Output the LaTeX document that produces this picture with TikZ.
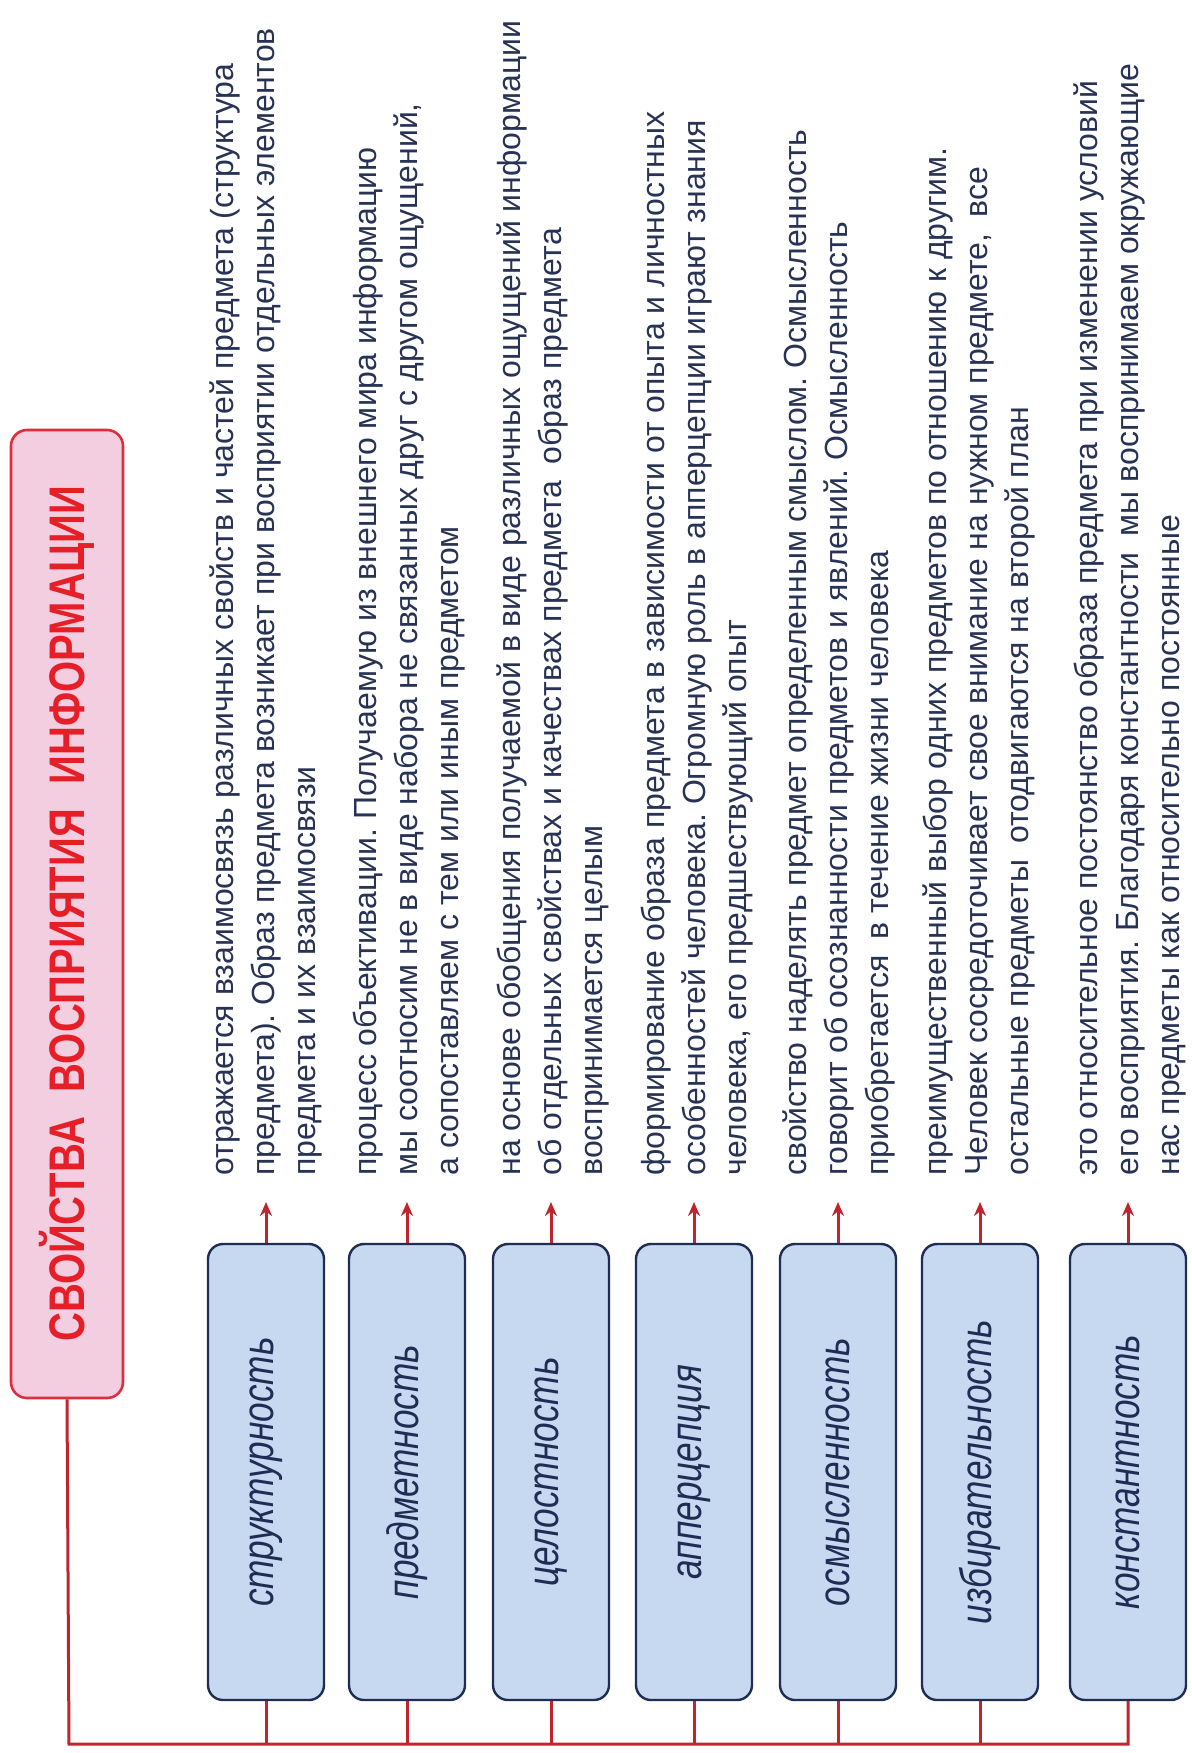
\documentclass[tikz,border=0pt]{standalone}
\usepackage{fontspec}
\setmainfont{Liberation Sans}
\newfontfamily\titlefont{Liberation Sans}[FakeStretch=0.8]
\newfontfamily\labelfont{Liberation Sans}[FakeStretch=0.8]
\usetikzlibrary{arrows.meta}
\frenchspacing

\definecolor{boxfill}{RGB}{198,217,240}
\definecolor{boxline}{RGB}{31,45,85}
\definecolor{titlefill}{RGB}{242,206,224}
\definecolor{titleline}{RGB}{222,45,60}
\definecolor{titletext}{RGB}{230,30,40}
\definecolor{linkred}{RGB}{192,36,44}
\definecolor{desctext}{RGB}{40,50,85}

\begin{document}
\begin{tikzpicture}[
        x=0.5pt, y=-0.5pt,
        titlebox/.style={draw=titleline, line width=1.3pt, fill=titlefill, rounded corners=8pt,
            rotate=90, minimum width=484pt, minimum height=56pt, inner sep=0pt,
            font=\titlefont\bfseries\fontsize{25pt}{30pt}\selectfont, text=titletext},
        propbox/.style={draw=boxline, line width=1.2pt, fill=boxfill, rounded corners=7.5pt,
            rotate=90, minimum width=228pt, minimum height=58pt, inner sep=0pt,
            font=\labelfont\itshape\fontsize{22pt}{25pt}\selectfont, text=boxline},
        desc/.style={rotate=90, anchor=west, align=left, inner sep=0pt, text=desctext,
            font=\fontsize{16pt}{20.5pt}\selectfont},
        link/.style={draw=linkred, line width=1.5pt},
        arrow/.style={link, -{Stealth[length=7pt, width=6pt]}, shorten >=13pt}
    ]
        \useasboundingbox (0,0) rectangle (1192,1753);

        % Title
        \node[titlebox] (title) at (67,914) {СВОЙСТВА\enspace ВОСПРИЯТИЯ\enspace ИНФОРМАЦИИ};
        \coordinate (corner) at (69,1744);

        % Properties
        \node[propbox] (struct) at (266,1472) {структурность};
        \node[propbox] (predm) at (407,1472) {предметность};
        \node[propbox] (celost) at (551,1472) {целостность};
        \node[propbox] (apperc) at (694,1472) {апперцепция};
        \node[propbox] (osmysl) at (838,1472) {осмысленность};
        \node[propbox] (izbir) at (980,1472) {избирательность};
        \node[propbox] (konst) at (1128,1472) {константность};

        % Descriptions
        \node[desc] (d1) at (266,1176) {отражается взаимосвязь различных свойств и частей предмета (структура\\
            предмета). Образ предмета возникает при восприятии отдельных элементов\\
            предмета и их взаимосвязи};
        \node[desc] (d2) at (409,1176) {процесс объективации. Получаемую из внешнего мира информацию\\
            мы соотносим не в виде набора не связанных друг с другом ощущений,\\
            а сопоставляем с тем или иным предметом};
        \node[desc] (d3) at (553,1176) {на основе обобщения получаемой в виде различных ощущений информации\\
            об отдельных свойствах и качествах предмета\enspace образ предмета\\
            воспринимается целым};
        \node[desc] (d4) at (697,1176) {формирование образа предмета в зависимости от опыта и личностных\\
            особенностей человека. Огромную роль в апперцепции играют знания\\
            человека, его предшествующий опыт};
        \node[desc] (d5) at (839,1176) {свойство наделять предмет определенным смыслом. Осмысленность\\
            говорит об осознанности предметов и явлений. Осмысленность\\
            приобретается\enspace в течение жизни человека};
        \node[desc] (d6) at (979,1176) {преимущественный выбор одних предметов по отношению к другим.\\
            Человек сосредоточивает свое внимание на нужном предмете,\enspace все\\
            остальные предметы\enspace отодвигаются на второй план};
        \node[desc] (d7) at (1130,1176) {это относительное постоянство образа предмета при изменении условий\\
            его восприятия. Благодаря константности\enspace мы воспринимаем окружающие\\
            нас предметы как относительно постоянные};

        % Bus
        \draw[link] (title.west) -- (corner) -| (konst.west);
        \draw[link] (struct.west) -- (struct.west |- corner);
        \draw[link] (predm.west) -- (predm.west |- corner);
        \draw[link] (celost.west) -- (celost.west |- corner);
        \draw[link] (apperc.west) -- (apperc.west |- corner);
        \draw[link] (osmysl.west) -- (osmysl.west |- corner);
        \draw[link] (izbir.west) -- (izbir.west |- corner);

        % Arrows to descriptions
        \draw[arrow] (struct.east) -- (struct.east |- d1.west);
        \draw[arrow] (predm.east) -- (predm.east |- d2.west);
        \draw[arrow] (celost.east) -- (celost.east |- d3.west);
        \draw[arrow] (apperc.east) -- (apperc.east |- d4.west);
        \draw[arrow] (osmysl.east) -- (osmysl.east |- d5.west);
        \draw[arrow] (izbir.east) -- (izbir.east |- d6.west);
        \draw[arrow] (konst.east) -- (konst.east |- d7.west);
    \end{tikzpicture}
\end{document}
